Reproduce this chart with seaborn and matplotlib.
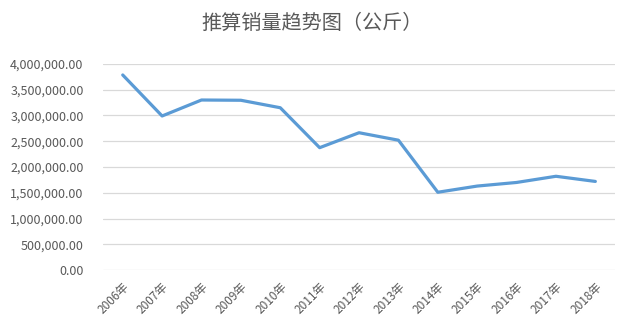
import matplotlib
matplotlib.use("Agg")
import matplotlib.pyplot as plt
import matplotlib.ticker as mticker
import seaborn as sns
import pandas as pd

years = ["2006年", "2007年", "2008年", "2009年", "2010年", "2011年", "2012年",
         "2013年", "2014年", "2015年", "2016年", "2017年", "2018年"]
sales = [3786000, 2990000, 3300000, 3295000, 3150000, 2375000, 2665000,
         2520000, 1510000, 1630000, 1700000, 1820000, 1720000]
title = "推算销量趋势图（公斤）"

sns.set_theme(style="white")
plt.rcParams['font.family'] = ['Noto Sans CJK SC', 'DejaVu Sans']

df = pd.DataFrame({"year": years, "sales": sales})
df["pos"] = range(len(years))

fig = plt.figure(figsize=(6.4, 3.33), dpi=100)
ax = fig.add_axes([0.161, 0.189, 0.800, 0.619])

sns.lineplot(data=df, x="pos", y="sales", ax=ax, color="#5B9BD5", linewidth=2.3)

ax.set_xlim(-0.5, len(years) - 0.5)
ax.set_ylim(0, 4000000)
ax.yaxis.set_major_locator(mticker.MultipleLocator(500000))
ax.yaxis.set_major_formatter(mticker.FuncFormatter(lambda v, p: f"{v:,.2f}"))
ax.set_xticks(range(len(years)))
ax.set_xticklabels(years, rotation=45, ha="right", rotation_mode="anchor")
ax.grid(axis="y", color="#D9D9D9", linewidth=0.9)
ax.grid(axis="x", visible=False)
for s in ax.spines.values():
    s.set_visible(False)
ax.tick_params(axis="both", length=0, colors="#595959", labelsize=9)
ax.tick_params(axis="x", labelsize=8.5, pad=7)
ax.tick_params(axis="y", pad=14)
ax.set_xlabel("")
ax.set_ylabel("")

fig.text(0.487, 0.93, title, ha="center", va="center", fontsize=14.5, color="#595959")

fig.savefig("out.png", dpi=100)
